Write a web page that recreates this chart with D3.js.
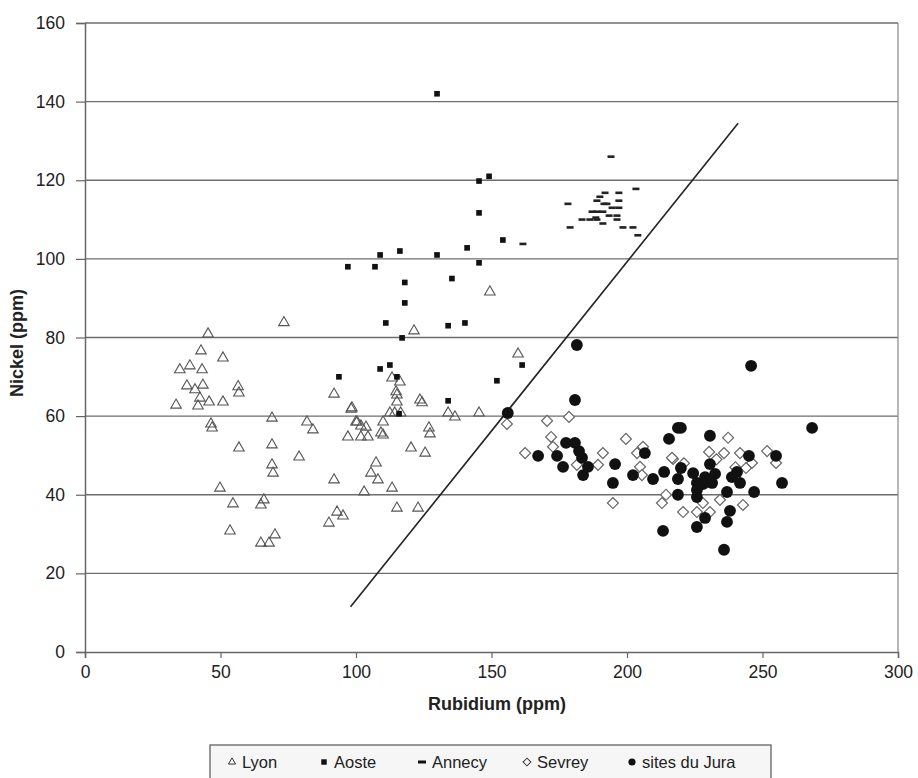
<!DOCTYPE html>
<html>
<head>
<meta charset="utf-8">
<script src="https://cdn.jsdelivr.net/npm/d3@7"></script>
<style>
  body { margin: 0; background: #fff; }
  svg text { font-family: "Liberation Sans", Arial, sans-serif; fill: #222; }
</style>
</head>
<body>
<div id="chart"></div>
<script>
(function(d3) {
  'use strict';

  // data: [rubidium, nickel]
  var lyon = [[42.8,76.6],[50.9,74.8],[38.7,72.8],[43.2,71.8],[35,71.8],[37.6,67.7],[43.5,67.9],[40.6,66.7],
    [42.4,64.6],[41.7,62.6],[45.8,63.6],[50.9,63.6],[56.8,65.9],[56.5,67.5],[33.6,62.8],[45.4,80.9],[73.4,83.8],
    [46.9,57],[46.5,58],[69,59.5],[81.9,58.5],[84.1,56.5],[91.9,65.6],[98.2,61.8],[100.4,58.5],[97,54.7],
    [56.8,51.9],[69,52.7],[79,49.6],[69,47.6],[69.4,45.5],[91.9,43.8],[49.8,41.7],[54.6,37.7],[66,38.7],
    [64.9,37.4],[93,35.6],[95.2,34.6],[90,32.8],[53.5,30.8],[70.1,29.8],[64.9,27.7],[67.9,27.7],
    [121.4,81.7],[113.3,69.7],[116.2,68.7],[114.8,66.2],[115.1,65.4],[115.1,63.6],[123.6,64.1],[124.4,63.4],
    [98.5,62.1],[112.5,60.8],[114.3,60.8],[116.5,60.8],[134,60.8],[136.5,59.8],[145.4,60.8],[159.8,75.8],
    [100,58.5],[101.8,57.5],[103.7,57.2],[110,58.5],[101.8,54.7],[104.4,54.7],[109.2,55.7],[110,55.2],
    [126.9,57],[127.3,55.5],[120.3,51.9],[125.5,50.6],[107.4,48.1],[105.5,45.5],[108.1,43.8],[103,40.7],
    [113.3,41.7],[115.1,36.6],[122.9,36.6],[149.4,91.6]];

  var aoste = [[129.9,142],[145.4,119.8],[149.1,121],[145.4,111.7],[154.2,104.8],[141,102.8],[116.2,102],
    [108.9,101],[129.9,101],[97,98],[107,98],[145.4,99],[118,94],[135.4,95],[118,88.8],[111,83.7],[134,83],
    [140.2,83.7],[117,79.9],[112.5,73],[108.9,72],[93.7,70],[115.1,70],[134,63.9],[115.9,60.6],[152,69],[161.3,73]];

  var annecy = [[194.1,126],[203.3,117.8],[191.9,116.8],[197,116.8],[190,115.8],[188.9,114.8],[197,114.8],
    [178.2,114],[191.5,114],[192.6,114],[194.5,113],[197,113],[187.1,112],[188.9,112],[191.1,112],[193.4,111],
    [196.3,111],[188.5,110.5],[183.4,110],[186.3,110],[188.9,110],[196.3,110],[191.1,109],[179,108],[198.5,108],
    [202.2,108],[204,106],[161.6,103.8]];

  var sevrey = [[155.7,58],[170.5,58.8],[178.6,59.8],[172,54.7],[172.7,52.2],[162.4,50.6],[181.5,47.6],
    [189.3,47.6],[191.1,50.6],[194.8,37.9],[199.6,54.2],[203.7,50.6],[205.9,52.2],[204.8,47.1],[205.5,45],
    [217,49.1],[212.9,37.9],[214.4,40],[237.3,54.5],[230.3,50.9],[235.8,50.6],[241.7,50.6],[251.7,51.1],
    [255,48.1],[246.1,48.1],[243.9,46.8],[216.6,49.4],[228,37.9],[234.3,38.7],[242.8,37.4],[220.7,35.6],
    [225.8,35.6],[230.6,35.6],[221,48],[240,47],[233,49]];

  var jura = [[181.5,78.1],[180.8,64.1],[156,60.8],[167.2,49.9],[174.2,49.9],[176.4,47.1],[177.5,53.2],
    [180.8,53.2],[182.3,51.1],[183.4,49.4],[185.6,47.1],[183.8,45],[195.6,47.8],[194.8,43],[206.6,50.6],
    [202.2,45],[209.6,44],[213.7,45.8],[215.5,54.2],[218.8,57],[213.3,30.8],[245.8,72.8],[268.3,57],
    [219.9,57],[230.6,55],[245,49.9],[255,49.9],[219.9,46.8],[224.4,45.5],[230.6,47.8],[232.5,45.3],
    [228.8,44.5],[240.6,45.8],[238.7,44.5],[241.7,43],[257.2,43],[218.8,44],[225.8,43],[228,42.7],
    [231.4,43],[225.8,41.2],[218.8,40],[236.9,40.7],[246.9,40.7],[225.8,39.4],[238,35.9],[228.8,34.1],
    [225.8,31.8],[236.9,33.1],[235.8,26]];

  var sepLine = [[98,11.5],[241,134.5]];

  var xTicks = [0,50,100,150,200,250,300];
  var yTicks = [0,20,40,60,80,100,120,140,160];
  var legendLabels = ['Lyon','Aoste','Annecy','Sevrey','sites du Jura'];

  var width = 918;
  var height = 778;
  var margin = {top: 23, right: 20, bottom: 126, left: 85};
  var w = width - margin.left - margin.right;
  var h = height - margin.top - margin.bottom;

  var svg = d3.select('#chart')
    .append('svg')
    .attr('width', width)
    .attr('height', height);

  var g = svg.append('g')
    .attr('transform', 'translate(' + margin.left + ',' + margin.top + ')');

  var x = d3.scaleLinear().domain([0,300]).range([0,w]);
  var y = d3.scaleLinear().domain([0,160]).range([h,0]);

  // gridlines
  g.selectAll('.grid')
    .data(yTicks.slice(1))
    .enter()
    .append('line')
    .attr('x1', 0).attr('x2', w)
    .attr('y1', function(d){ return y(d); })
    .attr('y2', function(d){ return y(d); })
    .attr('stroke', '#6e6e6e')
    .attr('stroke-width', 1.4);

  // right border
  g.append('line')
    .attr('x1', w).attr('x2', w).attr('y1', 0).attr('y2', h)
    .attr('stroke', '#888').attr('stroke-width', 1.2);

  var yAxis = g.append('g')
    .call(d3.axisLeft(y).tickValues(yTicks).tickSize(9).tickPadding(11));
  var xAxis = g.append('g')
    .attr('transform', 'translate(0,' + h + ')')
    .call(d3.axisBottom(x).tickValues(xTicks).tickSize(6).tickPadding(8));

  [xAxis, yAxis].forEach(function(ax){
    ax.select('.domain').attr('stroke', '#666').attr('stroke-width', 1.5);
    ax.selectAll('.tick line').attr('stroke', '#666').attr('stroke-width', 1.2);
    ax.selectAll('.tick text').style('font-size', '17.5px').attr('fill', '#222');
  });

  // axis titles
  svg.append('text')
    .attr('x', 497)
    .attr('y', 710)
    .attr('text-anchor', 'middle')
    .style('font-size', '18px')
    .style('font-weight', 'bold')
    .text('Rubidium (ppm)');

  svg.append('text')
    .attr('transform', 'translate(23,343) rotate(-90)')
    .attr('text-anchor', 'middle')
    .style('font-size', '18px')
    .style('font-weight', 'bold')
    .text('Nickel (ppm)');

  // separating line
  g.append('line')
    .attr('x1', x(sepLine[0][0])).attr('y1', y(sepLine[0][1]))
    .attr('x2', x(sepLine[1][0])).attr('y2', y(sepLine[1][1]))
    .attr('stroke', '#222').attr('stroke-width', 1.6);

  var tri = d3.symbol().type(d3.symbolTriangle).size(48);
  var sq = d3.symbol().type(d3.symbolSquare).size(32);
  var dia = d3.symbol().type(d3.symbolSquare).size(60);
  var circ = d3.symbol().type(d3.symbolCircle).size(110);

  function pos(d){ return 'translate(' + x(d[0]) + ',' + y(d[1]) + ')'; }

  g.append('g').selectAll('path')
    .data(sevrey).enter().append('path')
    .attr('d', dia)
    .attr('transform', function(d){ return pos(d) + ' rotate(45)'; })
    .attr('fill', '#fff').attr('stroke', '#666').attr('stroke-width', 1.2);

  g.append('g').selectAll('path')
    .data(lyon).enter().append('path')
    .attr('d', tri)
    .attr('transform', pos)
    .attr('fill', 'none').attr('stroke', '#555').attr('stroke-width', 1.1);

  g.append('g').selectAll('path')
    .data(jura).enter().append('path')
    .attr('d', circ)
    .attr('transform', pos)
    .attr('fill', '#111');

  g.append('g').selectAll('path')
    .data(aoste).enter().append('path')
    .attr('d', sq)
    .attr('transform', pos)
    .attr('fill', '#111');

  g.append('g').selectAll('rect')
    .data(annecy).enter().append('rect')
    .attr('x', function(d){ return x(d[0]) - 3.5; })
    .attr('y', function(d){ return y(d[1]) - 1.3; })
    .attr('width', 7).attr('height', 2.6)
    .attr('fill', '#222');

  // legend
  var legend = svg.append('g').attr('class', 'legendContainer');
  legend.append('rect')
    .attr('x', 210).attr('y', 745)
    .attr('width', 561).attr('height', 40)
    .attr('fill', '#f6f6f6')
    .attr('stroke', '#555').attr('stroke-width', 1.2);

  var legendX = [232, 324, 422, 527, 632];
  var legendSym = [
    function(s){ return s.append('path').attr('d', d3.symbol().type(d3.symbolTriangle).size(22)).attr('fill','none').attr('stroke','#333'); },
    function(s){ return s.append('path').attr('d', d3.symbol().type(d3.symbolSquare).size(30)).attr('fill','#111'); },
    function(s){ return s.append('rect').attr('x',-4).attr('y',-1.5).attr('width',8).attr('height',3).attr('fill','#111'); },
    function(s){ return s.append('path').attr('d', d3.symbol().type(d3.symbolSquare).size(30)).attr('transform','rotate(45)').attr('fill','none').attr('stroke','#333'); },
    function(s){ return s.append('path').attr('d', d3.symbol().type(d3.symbolCircle).size(40)).attr('fill','#111'); }
  ];

  var item = legend.selectAll('.legend')
    .data(legendLabels)
    .enter()
    .append('g')
    .attr('class', 'legend')
    .attr('transform', function(d, i){ return 'translate(' + legendX[i] + ',762)'; });

  item.each(function(d, i){ legendSym[i](d3.select(this)); });

  item.append('text')
    .attr('x', 10)
    .attr('y', 6)
    .style('font-size', '16.5px')
    .text(function(d){ return d; });

})(window.d3);
</script>
</body>
</html>
